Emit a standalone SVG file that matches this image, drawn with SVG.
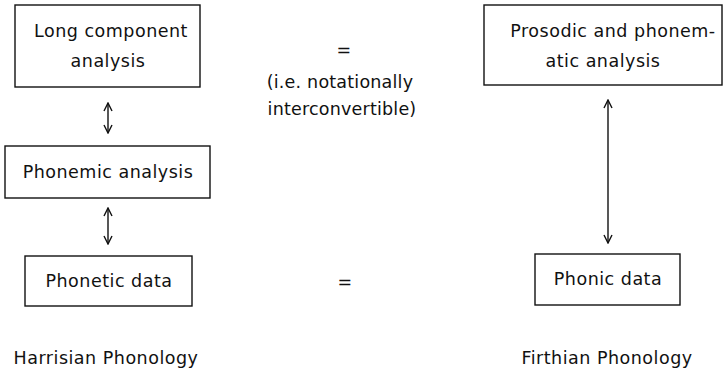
<svg xmlns="http://www.w3.org/2000/svg" width="727" height="371" viewBox="0 0 727 371">
  <style>
    .box { fill: #fff; stroke: #111; stroke-width: 1.4; }
    .t { font-family: "DejaVu Sans", "Liberation Sans", sans-serif; font-size: 17.5px; letter-spacing: 0.5px; fill: #111; text-anchor: middle; }
    .mid { letter-spacing: 0.2px; }
    .ln { stroke: #111; stroke-width: 1.4; fill: none; }
  </style>
  <defs>
    <marker id="ah" viewBox="0 0 10 10" refX="9" refY="5" markerWidth="10" markerHeight="10" markerUnits="userSpaceOnUse" orient="auto-start-reverse">
      <polyline points="1,1 9,5 1,9" fill="none" stroke="#111" stroke-width="1.4"/>
    </marker>
  </defs>
  <rect width="727" height="371" fill="#fff"/>

  <g id="long-component">
    <rect class="box" x="15" y="5" width="185" height="82"/>
    <text class="t" x="111" y="37">Long component</text>
    <text class="t" x="108" y="67">analysis</text>
  </g>
  <g id="phonemic">
    <rect class="box" x="5" y="146" width="205" height="52"/>
    <text class="t" x="108" y="178">Phonemic analysis</text>
  </g>
  <g id="phonetic">
    <rect class="box" x="25" y="256" width="167" height="50"/>
    <text class="t" x="109" y="287">Phonetic data</text>
  </g>
  <g id="prosodic">
    <rect class="box" x="484" y="5" width="238" height="80"/>
    <text class="t" x="613" y="37">Prosodic and phonem-</text>
    <text class="t" x="603" y="67">atic analysis</text>
  </g>
  <g id="phonic">
    <rect class="box" x="535" y="254" width="145" height="51"/>
    <text class="t" x="608" y="285">Phonic data</text>
  </g>

  <g id="equivalence">
    <text class="t" x="344" y="56">=</text>
    <text class="t mid" x="340" y="88">(i.e. notationally</text>
    <text class="t mid" x="342" y="115">interconvertible)</text>
    <text class="t" x="345" y="288">=</text>
  </g>

  <g id="captions">
    <text class="t" x="106" y="364">Harrisian Phonology</text>
    <text class="t" x="607" y="364">Firthian Phonology</text>
  </g>

  <g id="connectors">
    <line class="ln" x1="108" y1="103" x2="108" y2="133" marker-start="url(#ah)" marker-end="url(#ah)"/>
    <line class="ln" x1="108" y1="208" x2="108" y2="244" marker-start="url(#ah)" marker-end="url(#ah)"/>
    <line class="ln" x1="608" y1="100" x2="608" y2="243" marker-start="url(#ah)" marker-end="url(#ah)"/>
  </g>
</svg>
